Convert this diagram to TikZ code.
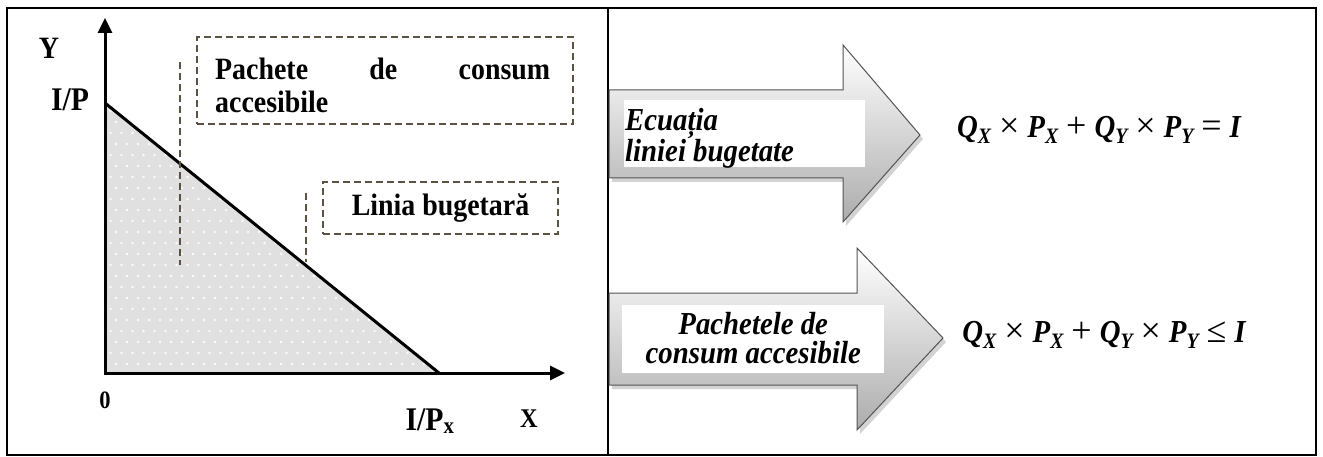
\documentclass[tikz,border=0pt]{standalone}
\usepackage{fontspec}
\setmainfont{Liberation Serif}
\newfontfamily\tallserif[FakeStretch=0.9]{Liberation Serif}
\usetikzlibrary{arrows.meta,shadows}
\definecolor{boxc}{RGB}{90,82,66}
\newcommand{\bi}[1]{{\tallserif\bfseries\itshape\fontsize{32}{34}\selectfont #1}}
\newcommand{\sbs}[1]{\raisebox{-6pt}{\tallserif\bfseries\itshape\fontsize{22}{22}\selectfont #1}}
\newcommand{\op}[1]{\hspace{8pt}{\fontsize{36}{36}\selectfont #1}\hspace{8pt}}
\begin{document}
\begin{tikzpicture}[x=1pt,y=-1pt,
  frame/.style={line width=2pt},
  axes/.style={line width=3pt,line join=miter,{Triangle[length=15pt,width=14pt]}-{Triangle[length=15pt,width=14pt]}},
  budget/.style={line width=3pt},
  dbox/.style={draw=boxc,dash pattern=on 7pt off 4pt,line width=1.6pt,inner sep=0pt},
  leader/.style={draw=boxc,dash pattern=on 7pt off 4pt,line width=1.6pt},
  lbl/.style={font=\tallserif\fontsize{31}{33}\selectfont\bfseries,inner sep=0pt},
  bigarrow/.style={draw=gray!65!black,line width=1pt,line join=miter,top color=white,bottom color=gray!65,
     drop shadow={shadow xshift=3pt,shadow yshift=-4pt,opacity=0.35,fill=gray}},
  wbox/.style={fill=white,inner sep=0pt},
  itl/.style={font=\tallserif\fontsize{32}{29}\selectfont\bfseries\itshape,inner sep=0pt},
  eq/.style={inner sep=0pt}
]
\useasboundingbox (0,0) rectangle (1323,457);
% frame
\draw[frame] (7,8) rectangle (1316,455);
\draw[frame] (608,8) -- (608,455);

% ---- left panel ----
\coordinate (O) at (105,373);
\coordinate (ytop) at (105,18);
\coordinate (xend) at (565,373);
\coordinate (ip) at (105,103);
\coordinate (ipx) at (439,373);

\fill[gray!24] (O) -- (ip) -- (ipx) -- cycle;
\begin{scope}
  \clip (O) -- (ip) -- (ipx) -- cycle;
  \foreach \j in {0,...,25}{
    \foreach \i in {0,...,31}{
      \pgfmathsetmacro{\xx}{105+\i*11+mod(\j,2)*5.5}
      \pgfmathsetmacro{\yy}{100+\j*11}
      \fill[white,opacity=0.9] (\xx,\yy) circle[radius=1.4pt];
    }
  }
\end{scope}

\draw[budget] (ip) -- (ipx);
\draw[axes] (ytop) -- (O) -- (xend);

\node[lbl,font=\tallserif\fontsize{31}{33}\selectfont\bfseries] (Y) at (49,48) {Y};
\node[lbl,font=\tallserif\fontsize{33}{35}\selectfont\bfseries] (IP) at (70,100) {I/P};
\node[lbl,font=\tallserif\fontsize{25}{27}\selectfont\bfseries] (zero) at (105,400) {0};
\node[lbl,font=\tallserif\fontsize{33}{35}\selectfont\bfseries] (IPx) at (430,421) {I/P\textsubscript{x}};
\node[lbl,font=\tallserif\fontsize{27}{29}\selectfont\bfseries] (X) at (529,419) {X};

% dashed boxes
\node[dbox,minimum width=376pt,minimum height=87pt,anchor=north west] (b1) at (196,36) {};
\node[lbl,text width=335pt,align=left,anchor=north west] (t1) at (215,58) {Pachete\hfill de\hfill consum\\accesibile};
\node[dbox,lbl,minimum width=235pt,minimum height=52pt] (b2) at (440.5,208) {Linia bugetară};

\coordinate (l1a) at (180,62);
\coordinate (l1b) at (180,265);
\coordinate (l2a) at (306,193);
\coordinate (l2b) at (306,262);
\draw[leader] (l1a) -- (l1b);
\draw[leader] (l2a) -- (l2b);

% ---- right panel ----
\draw[bigarrow] (609,90) -- (843,90) -- (843,45) -- (920,135) -- (843,222) -- (843,178) -- (609,178) -- cycle;
\draw[bigarrow] (609,293) -- (857,293) -- (857,248) -- (943,338) -- (857,430) -- (857,385) -- (609,385) -- cycle;

\node[wbox,minimum width=241pt,minimum height=67pt,anchor=north west] (w1) at (624,100) {};
\node[itl,anchor=north west,align=left] (e1) at (625,108) {Ecuația\\liniei bugetate};

\node[wbox,minimum width=262pt,minimum height=68pt,anchor=north west] (w2) at (622,305) {};
\node[itl,align=center] (e2) at ([yshift=1pt]w2.center) {Pachetele de\\consum accesibile};

\node[eq,anchor=base] (eq1) at (1099,138) {\bi{Q}\sbs{X}\op{×}\bi{P}\sbs{X}\op{+}\bi{Q}\sbs{Y}\op{×}\bi{P}\sbs{Y}\op{=}\bi{I}};
\node[eq,anchor=base] (eq2) at (1104,342) {\bi{Q}\sbs{X}\op{×}\bi{P}\sbs{X}\op{+}\bi{Q}\sbs{Y}\op{×}\bi{P}\sbs{Y}\op{≤}\bi{I}};
\end{tikzpicture}
\end{document}
